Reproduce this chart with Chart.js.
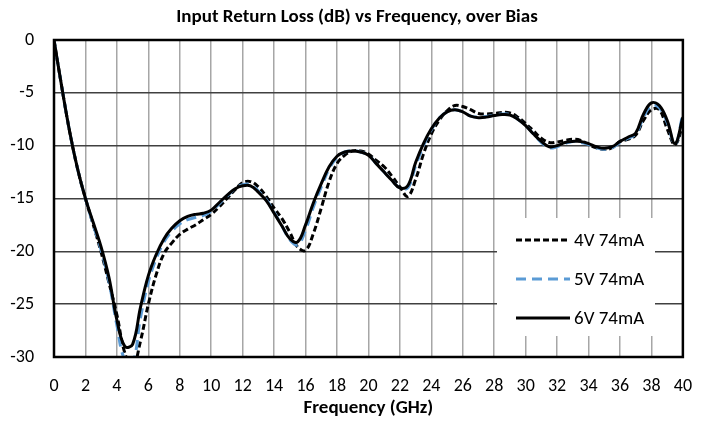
<!DOCTYPE html>
<html>
<head>
<meta charset="utf-8">
<script src="https://cdn.jsdelivr.net/npm/chart.js@4.4.1/dist/chart.umd.min.js"></script>
<style>
  html, body { margin: 0; padding: 0; background: #fff; }
  #wrap { width: 711px; height: 423px; position: relative; }
</style>
</head>
<body>
<div id="wrap"><canvas id="c" width="711" height="423"></canvas></div>
<script>
const chartTitle = "Input Return Loss (dB) vs Frequency, over Bias";
const xTitle = "Frequency (GHz)";
const seriesNames = ["4V 74mA", "5V 74mA", "6V 74mA"];

const frequency = [0,0.5,1,1.5,2,2.5,3,3.5,4,4.5,5,5.5,6,6.5,7,7.5,8,8.5,9,9.5,10,10.5,11,11.5,12,12.5,13,13.5,14,14.5,15,15.5,16,16.5,17,17.5,18,18.5,19,19.5,20,20.5,21,21.5,22,22.5,23,23.5,24,24.5,25,25.5,26,26.5,27,27.5,28,28.5,29,29.5,30,30.5,31,31.5,32,32.5,33,33.5,34,34.5,35,35.5,36,36.5,37,37.5,38,38.5,39,39.5,40];

const rl4V = [0,-4.5,-8.7,-12.2,-15.0,-17.5,-20.1,-23.0,-26.0,-29.6,-31.0,-28.5,-25.0,-22.2,-20.2,-19.2,-18.4,-17.9,-17.5,-17.0,-16.5,-15.8,-15.0,-14.2,-13.5,-13.4,-13.9,-14.8,-15.9,-16.9,-18.2,-19.6,-19.9,-18.3,-15.9,-13.4,-11.7,-10.9,-10.5,-10.5,-10.8,-11.4,-12.0,-12.9,-13.9,-14.8,-13.2,-10.8,-8.9,-7.6,-6.7,-6.2,-6.3,-6.6,-6.95,-7.0,-6.95,-6.85,-6.9,-7.3,-7.9,-8.6,-9.3,-9.7,-9.65,-9.5,-9.4,-9.5,-9.9,-10.2,-10.35,-10.2,-9.6,-9.4,-9.0,-7.6,-6.6,-6.6,-8.4,-9.9,-8.0];

const rl5V = [0,-4.5,-8.7,-12.2,-15.0,-17.5,-19.9,-22.9,-27.0,-30.3,-30.6,-26.3,-22.9,-20.7,-19.1,-18.1,-17.4,-17.0,-16.8,-16.6,-16.2,-15.5,-14.8,-14.1,-13.7,-13.7,-14.3,-15.1,-16.3,-17.6,-18.9,-19.4,-18.0,-15.8,-13.9,-12.2,-11.1,-10.6,-10.5,-10.6,-10.9,-11.7,-12.5,-13.3,-14.0,-14.0,-11.9,-10.0,-8.5,-7.4,-6.8,-6.6,-6.8,-7.2,-7.3,-7.25,-7.1,-7.0,-7.05,-7.5,-8.1,-8.9,-9.7,-10.2,-10.1,-9.8,-9.6,-9.7,-9.9,-10.2,-10.35,-10.2,-9.7,-9.3,-8.9,-7.3,-6.2,-6.4,-7.8,-9.9,-7.0];

const rl6V = [0,-4.5,-8.7,-12.2,-15.0,-17.3,-19.6,-22.5,-26.5,-29.0,-28.8,-25.3,-22.3,-20.3,-18.8,-17.8,-17.1,-16.7,-16.5,-16.4,-16.1,-15.4,-14.7,-14.1,-13.8,-13.8,-14.4,-15.2,-16.4,-17.6,-18.8,-19.1,-17.5,-15.4,-13.6,-12.0,-11.0,-10.6,-10.5,-10.6,-10.9,-11.7,-12.5,-13.3,-14.0,-13.8,-11.6,-9.8,-8.4,-7.4,-6.8,-6.6,-6.8,-7.2,-7.35,-7.3,-7.15,-7.05,-7.1,-7.5,-8.1,-8.9,-9.6,-10.1,-10.0,-9.7,-9.6,-9.6,-9.8,-10.1,-10.25,-10.1,-9.6,-9.2,-8.8,-7.0,-5.95,-6.2,-7.6,-9.8,-7.3];

const xTicks = [0,2,4,6,8,10,12,14,16,18,20,22,24,26,28,30,32,34,36,38,40];
const yTicks = [0,-5,-10,-15,-20,-25,-30];

const FONT = "Carlito, Lato, 'Open Sans', sans-serif";

function pts(vals) { return frequency.map((f, i) => ({ x: f, y: vals[i] })); }

const styles = [
  { color: '#000000', dash: [6, 3], width: 3, order: 2 },
  { color: '#5B9BD5', dash: [10, 6], width: 3, order: 1 },
  { color: '#000000', dash: [], width: 3, order: 0 }
];
const allSeries = [rl4V, rl5V, rl6V];

const datasets = allSeries.map((vals, i) => ({
  label: seriesNames[i],
  data: pts(vals),
  borderColor: styles[i].color,
  borderDash: styles[i].dash,
  borderWidth: styles[i].width,
  pointRadius: 0,
  fill: false,
  tension: 0.4,
  order: styles[i].order
}));

const decor = {
  id: 'decor',
  afterDraw(chart) {
    const ctx = chart.ctx;
    const a = chart.chartArea;
    ctx.save();
    ctx.strokeStyle = '#000';
    ctx.lineWidth = 2.5;
    ctx.strokeRect(a.left, a.top, a.right - a.left, a.bottom - a.top);
    ctx.fillStyle = '#000';
    ctx.font = "bold 19px " + FONT;
    ctx.textAlign = 'center';
    ctx.textBaseline = 'middle';
    ctx.fillText(chartTitle, 357, 17);
    const lx = 497, ly = 218, lw = 158, lh = 118;
    ctx.fillStyle = '#fff';
    ctx.fillRect(lx, ly, lw, lh);
    const rows = [240, 279, 318];
    ctx.font = "19px " + FONT;
    ctx.textAlign = 'left';
    rows.forEach((ry, i) => {
      ctx.beginPath();
      ctx.strokeStyle = styles[i].color;
      ctx.lineWidth = 3;
      ctx.setLineDash(styles[i].dash);
      ctx.moveTo(516, ry);
      ctx.lineTo(570, ry);
      ctx.stroke();
      ctx.setLineDash([]);
      ctx.fillStyle = '#000';
      ctx.fillText(seriesNames[i], 574, ry + 1);
    });
    ctx.restore();
  }
};

new Chart(document.getElementById('c'), {
  type: 'line',
  data: { datasets },
  options: {
    responsive: false,
    animation: false,
    layout: { padding: { left: 0, right: 25, top: 40, bottom: 0 } },
    plugins: { legend: { display: false }, title: { display: false }, tooltip: { enabled: false } },
    scales: {
      x: {
        type: 'linear', min: 0, max: 40,
        afterBuildTicks(s) { s.ticks = xTicks.map(v => ({ value: v })); },
        afterFit(s) { s.height = 66; },
        grid: { color: '#a6a6a6', lineWidth: 1.5, drawTicks: false },
        border: { display: false },
        ticks: { color: '#000', font: { size: 18, family: FONT }, padding: 19, maxRotation: 0, autoSkip: false },
        title: { display: true, text: xTitle, color: '#000', font: { size: 19, weight: 'bold', family: FONT }, padding: { top: 2, bottom: 3 } }
      },
      y: {
        type: 'linear', min: -30, max: 0,
        afterBuildTicks(s) { s.ticks = yTicks.map(v => ({ value: v })); },
        afterFit(s) { s.width = 54; },
        grid: { color: '#404040', lineWidth: 1.5, drawTicks: false },
        border: { display: false },
        ticks: { color: '#000', font: { size: 18, family: FONT }, padding: 20 }
      }
    }
  },
  plugins: [decor]
});
</script>
</body>
</html>
